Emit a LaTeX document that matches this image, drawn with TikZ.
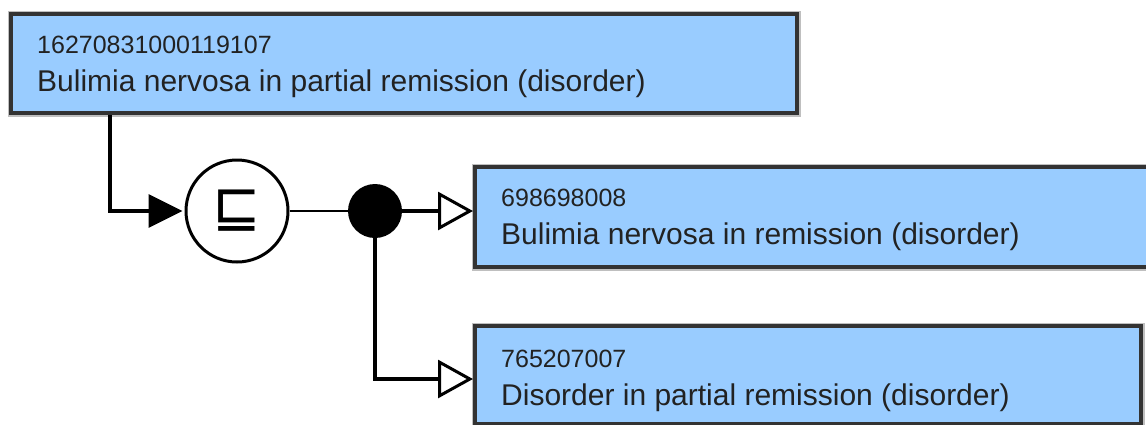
\documentclass[tikz,border=0pt]{standalone}
\usepackage{fontspec}
\setmainfont{Liberation Sans}
\newfontfamily\symfont{DejaVu Sans}
\usetikzlibrary{arrows.meta}
\definecolor{boxfill}{HTML}{99CCFF}
\definecolor{boxline}{HTML}{333333}
\definecolor{txt}{HTML}{222222}
\tikzset{
  conceptbox/.style={draw=boxline, line width=4pt, fill=boxfill, rectangle,
    preaction={draw=black!25, line width=7pt}, anchor=north west, inner sep=0pt},
  idtext/.style={anchor=base west, inner sep=0pt, text=txt, font=\fontsize{25}{28}\selectfont},
  nametext/.style={anchor=base west, inner sep=0pt, text=txt, font=\fontsize{30}{33}\selectfont},
  opnode/.style={circle, draw=black, line width=3pt, fill=white, minimum size=102pt, inner sep=0pt},
  dotnode/.style={circle, fill=black, minimum size=54pt, inner sep=0pt},
  conn/.style={draw=black, line width=3.5pt},
  filledtip/.style={-{Triangle[length=34pt,width=33pt]}},
  opentip/.style={-{Triangle[open,length=35pt,width=38pt,fill=white,line width=3pt]}},
}
\begin{document}
\begin{tikzpicture}[x=1pt,y=-1pt]
\useasboundingbox (0,0) rectangle (1146,424);
\clip (0,0) rectangle (1146,424);
% boxes
\node[conceptbox, minimum width=786pt, minimum height=99pt] (b1) at (9,12) {};
\node[conceptbox, minimum width=690pt, minimum height=100pt] (b2) at (473,165) {};
\node[conceptbox, minimum width=666pt, minimum height=98pt] (b3) at (473,324) {};
% texts
\node[idtext] (b1id) at (37,53) {16270831000119107};
\node[nametext] (b1name) at (37,91) {Bulimia nervosa in partial remission (disorder)};
\node[idtext] (b2id) at (501,206) {698698008};
\node[nametext] (b2name) at (501,244) {Bulimia nervosa in remission (disorder)};
\node[idtext] (b3id) at (501,367) {765207007};
\node[nametext] (b3name) at (501,405) {Disorder in partial remission (disorder)};
% operator and junction
\node[opnode] (sub) at (237,211) {\symfont\fontsize{58}{58}\selectfont ⊑};
\node[dotnode] (dot) at (375,211) {};
% connectors
\draw[conn, filledtip] ([xshift=101pt]b1.south west) |- ([xshift=-2pt]sub.west);
\draw[draw=black, line width=2.8pt] (sub.east) -- (dot.west);
\draw[conn, opentip] (dot.east) -- (b2.west |- dot.east);
\coordinate (b3in) at ([yshift=-4pt]b3.west);
\draw[conn, opentip] (dot.south) |- (b3in);
\end{tikzpicture}
\end{document}
